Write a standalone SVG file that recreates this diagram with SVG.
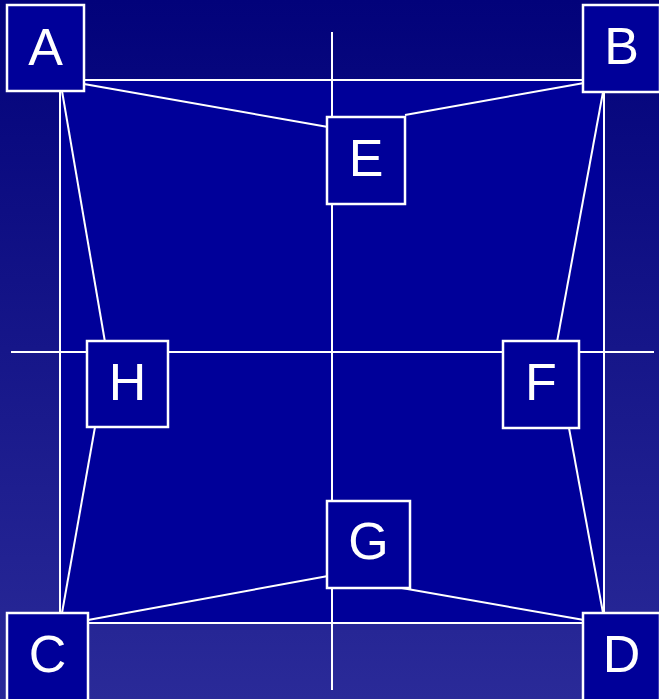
<svg xmlns="http://www.w3.org/2000/svg" width="659" height="699" viewBox="0 0 659 699">
<defs>
<linearGradient id="bg" x1="0" y1="0" x2="0" y2="1">
<stop offset="0" stop-color="#02027a"/>
<stop offset="1" stop-color="#2a2a98"/>
</linearGradient>
<style>
.ln{stroke:#ffffff;stroke-width:2;fill:none}
.box{fill:#000099;stroke:#ffffff;stroke-width:2.5}
.lbl{font-family:"Liberation Sans",Arial,sans-serif;font-size:52px;fill:#ffffff;text-anchor:middle}
</style>
</defs>
<rect width="659" height="699" fill="url(#bg)"/>
<rect x="60" y="80" width="544" height="543" fill="#000099"/>
<g id="connectors">
<line class="ln" x1="332" y1="32" x2="332" y2="690"/>
<line class="ln" x1="11" y1="352" x2="654" y2="352"/>
<line class="ln" x1="60" y1="80" x2="604" y2="80"/>
<line class="ln" x1="60" y1="80" x2="60" y2="623"/>
<line class="ln" x1="604" y1="80" x2="604" y2="623"/>
<line class="ln" x1="60" y1="623" x2="604" y2="623"/>
<line class="ln" x1="84" y1="84" x2="328" y2="127"/>
<line class="ln" x1="405" y1="115" x2="584" y2="83"/>
<line class="ln" x1="62" y1="91" x2="105" y2="342"/>
<line class="ln" x1="603" y1="92" x2="557" y2="342"/>
<line class="ln" x1="95" y1="427" x2="62" y2="613"/>
<line class="ln" x1="569" y1="428" x2="603" y2="613"/>
<line class="ln" x1="88" y1="620" x2="328" y2="576"/>
<line class="ln" x1="396" y1="587" x2="584" y2="620"/>
</g>
<g id="A"><rect class="box" x="7" y="5" width="77" height="86"/><text class="lbl" x="45.5" y="65">A</text></g>
<g id="B"><rect class="box" x="583" y="5" width="77" height="87"/><text class="lbl" x="621.5" y="64">B</text></g>
<g id="E"><rect class="box" x="327" y="117" width="78" height="87"/><text class="lbl" x="366" y="176">E</text></g>
<g id="H"><rect class="box" x="87" y="341" width="81" height="86"/><text class="lbl" x="127.5" y="400">H</text></g>
<g id="F"><rect class="box" x="503" y="341" width="76" height="87"/><text class="lbl" x="541" y="400">F</text></g>
<g id="G"><rect class="box" x="327" y="501" width="83" height="87"/><text class="lbl" x="368.5" y="559">G</text></g>
<g id="C"><rect class="box" x="7" y="613" width="81" height="90"/><text class="lbl" x="47.5" y="672">C</text></g>
<g id="D"><rect class="box" x="583" y="613" width="77" height="90"/><text class="lbl" x="621.5" y="672">D</text></g>
</svg>
